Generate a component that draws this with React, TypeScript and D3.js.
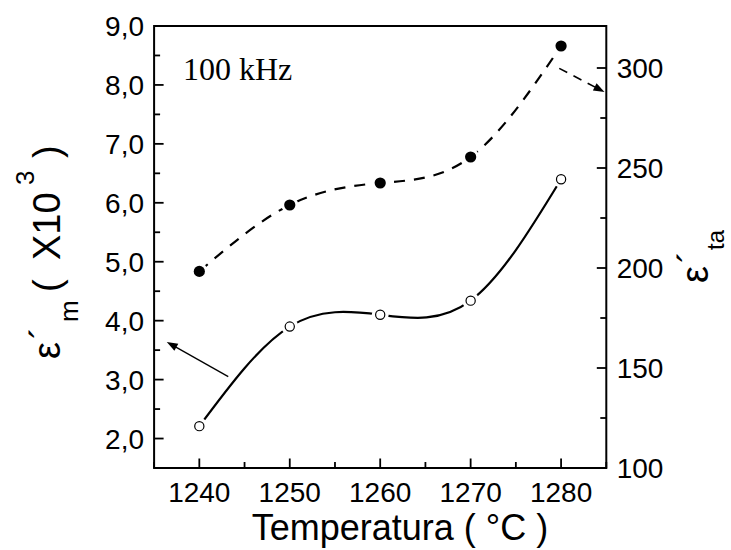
import React from "react";
import * as d3 from "d3";

const temps = [1240, 1250, 1260, 1270, 1280];
const epsM = [2.21, 3.9, 4.1, 4.34, 6.4];
const epsTa = [198.3, 231.5, 242.5, 255.5, 311];
const xTicks = [1240, 1250, 1260, 1270, 1280];
const xMinor = [1235, 1245, 1255, 1265, 1275, 1285];
const yLTicks = [2, 3, 4, 5, 6, 7, 8, 9];
const yLMinor = [1.5, 2.5, 3.5, 4.5, 5.5, 6.5, 7.5, 8.5];
const yRTicks = [100, 150, 200, 250, 300];
const yRMinor = [125, 175, 225, 275];
// annotation arrows (data coords)
const arrowM = { x1: 1243.2, y1: 3.05, x2: 1236.4, y2: 3.64 };
const arrowTa = { x1: 1279.8, y1: 299.8, x2: 1284.8, y2: 288.0 };

const W = 731, H = 550;
const L = 154.1, R = 606.3, T = 26, B = 468;
const SANS = "'Liberation Sans', Arial, sans-serif";

export default function App() {
  const x = d3.scaleLinear().domain([1235, 1285]).range([L, R]);
  const yL = d3.scaleLinear().domain([1.5, 9]).range([B, T]);
  const yR = d3.scaleLinear().domain([100, 321]).range([B, T]);

  const ptsM = temps.map((t, i) => [x(t), yL(epsM[i])] as [number, number]);
  const ptsTa = temps.map((t, i) => [x(t), yR(epsTa[i])] as [number, number]);
  const line = d3.line().curve(d3.curveNatural);

  const fmtL = (v: number) => v.toFixed(1).replace(".", ",");

  const arrowHead = (x1: number, y1: number, x2: number, y2: number, len = 11, wid = 4) => {
    const a = Math.atan2(y2 - y1, x2 - x1);
    const bx = x2 - len * Math.cos(a), by = y2 - len * Math.sin(a);
    const px = -Math.sin(a) * wid, py = Math.cos(a) * wid;
    return `M${x2},${y2}L${bx + px},${by + py}L${bx - px},${by - py}Z`;
  };

  const aM = { x1: x(arrowM.x1), y1: yL(arrowM.y1), x2: x(arrowM.x2), y2: yL(arrowM.y2) };
  const aT = { x1: x(arrowTa.x1), y1: yR(arrowTa.y1), x2: x(arrowTa.x2), y2: yR(arrowTa.y2) };
  const shorten = (a: any, d: number) => {
    const ang = Math.atan2(a.y2 - a.y1, a.x2 - a.x1);
    return { x: a.x2 - d * Math.cos(ang), y: a.y2 - d * Math.sin(ang) };
  };
  const aMend = shorten(aM, 8);
  const aTend = shorten(aT, 8);

  return (
    <svg width={W} height={H} style={{ position: "absolute", left: 0, top: 0, background: "#fff" }}>
      <rect x={0} y={0} width={W} height={H} fill="#fff" />
      {/* curves */}
      <path d={line(ptsM) || ""} fill="none" stroke="#000" strokeWidth={2.2} />
      <path d={line(ptsTa) || ""} fill="none" stroke="#000" strokeWidth={2.2} strokeDasharray="11,9" />
      {/* gaps around markers */}
      {ptsM.concat(ptsTa).map((p, i) => (
        <circle key={"h" + i} cx={p[0]} cy={p[1]} r={8.5} fill="#fff" />
      ))}
      {ptsM.map((p, i) => (
        <circle key={"m" + i} cx={p[0]} cy={p[1]} r={4.6} fill="#fff" stroke="#000" strokeWidth={1.2} />
      ))}
      {ptsTa.map((p, i) => (
        <circle key={"t" + i} cx={p[0]} cy={p[1]} r={5.6} fill="#000" />
      ))}
      {/* arrows */}
      <line x1={aM.x1} y1={aM.y1} x2={aMend.x} y2={aMend.y} stroke="#000" strokeWidth={1.3} />
      <path d={arrowHead(aM.x1, aM.y1, aM.x2, aM.y2)} fill="#000" />
      <line x1={aT.x1} y1={aT.y1} x2={aTend.x} y2={aTend.y} stroke="#000" strokeWidth={1.6} strokeDasharray="9,7" />
      <path d={arrowHead(aT.x1, aT.y1, aT.x2, aT.y2)} fill="#000" />

      {/* frame */}
      <rect x={L} y={T} width={R - L} height={B - T} fill="none" stroke="#000" strokeWidth={2} />

      {/* x ticks */}
      {xTicks.map((t) => (
        <g key={"xt" + t}>
          <line x1={x(t)} x2={x(t)} y1={B} y2={B - 9.5} stroke="#000" strokeWidth={1.8} />
          <text x={x(t)} y={501.7} textAnchor="middle" fontFamily={SANS} fontSize={28}>{t}</text>
        </g>
      ))}
      {xMinor.map((t) => (
        <line key={"xm" + t} x1={x(t)} x2={x(t)} y1={B} y2={B - 6} stroke="#000" strokeWidth={1.8} />
      ))}
      {/* left ticks */}
      {yLTicks.map((v) => (
        <g key={"yl" + v}>
          <line x1={L} x2={L + 9.5} y1={yL(v)} y2={yL(v)} stroke="#000" strokeWidth={1.8} />
          <text x={144} y={yL(v) + 10} textAnchor="end" fontFamily={SANS} fontSize={28}>{fmtL(v)}</text>
        </g>
      ))}
      {yLMinor.map((v) => (
        <line key={"ylm" + v} x1={L} x2={L + 6} y1={yL(v)} y2={yL(v)} stroke="#000" strokeWidth={1.8} />
      ))}
      {/* right ticks */}
      {yRTicks.map((v) => (
        <g key={"yr" + v}>
          <line x1={R} x2={R - 9.5} y1={yR(v)} y2={yR(v)} stroke="#000" strokeWidth={1.8} />
          <text x={616.7} y={yR(v) + 9.5} textAnchor="start" fontFamily={SANS} fontSize={28}>{v}</text>
        </g>
      ))}
      {yRMinor.map((v) => (
        <line key={"yrm" + v} x1={R} x2={R - 6} y1={yR(v)} y2={yR(v)} stroke="#000" strokeWidth={1.8} />
      ))}

      {/* annotation */}
      <text x={183} y={80} fontFamily="'Liberation Serif', 'Times New Roman', serif" fontSize={32}>100 kHz</text>

      {/* x title */}
      <text x={400} y={540} textAnchor="middle" fontFamily={SANS} fontSize={36}>Temperatura ( °C )</text>

      {/* left y title */}
      <text transform="translate(60,359) rotate(-90)" fontFamily={SANS} fontSize={38}>
        <tspan x={0} y={0}>ε</tspan>
        <tspan x={20} y={-4} fontSize={36}>´</tspan>
        <tspan x={37} y={18} fontSize={26}>m</tspan>
        <tspan x={67} y={0}>(</tspan>
        <tspan x={99} y={0}>X10</tspan>
        <tspan x={174} y={-26} fontSize={26}>3</tspan>
        <tspan x={201} y={0}>)</tspan>
      </text>

      {/* right y title */}
      <text transform="translate(708,283) rotate(-90)" fontFamily={SANS} fontSize={38}>
        <tspan x={0} y={0}>ε</tspan>
        <tspan x={20} y={-4} fontSize={36}>´</tspan>
        <tspan x={33} y={16} fontSize={24}>ta</tspan>
      </text>
    </svg>
  );
}
